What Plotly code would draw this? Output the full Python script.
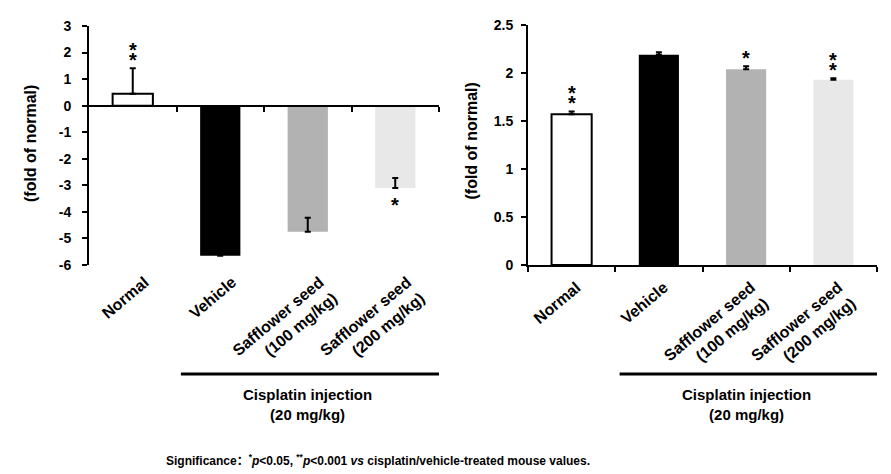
import plotly.graph_objects as go

# ---------------- data ----------------
categories = ["Normal", "Vehicle", "Safflower seed<br>(100 mg/kg)", "Safflower seed<br>(200 mg/kg)"]
bar_colors = ["white", "black", "#b2b2b2", "#e8e8e8"]
bar_outline = [2, 0, 0, 0]

left_values = [0.45, -5.65, -4.75, -3.1]
left_err = [0.96, 0.0, 0.53, 0.38]
left_sig = ["**", "", "", "*"]
left_ticks = [3, 2, 1, 0, -1, -2, -3, -4, -5, -6]

right_values = [1.57, 2.19, 2.04, 1.93]
right_err = [0.03, 0.025, 0.03, 0.015]
right_sig = ["**", "", "*", "**"]
right_ticks = [0, 0.5, 1, 1.5, 2, 2.5]

y_title = "(fold of normal)"
group_title = "Cisplatin injection<br>(20 mg/kg)"
footnote = ("Significance\uff1a<sup>*</sup><i>p</i>&lt;0.05, <sup>**</sup><i>p</i>&lt;0.001 "
            "<i>vs</i> cisplatin/vehicle-treated mouse values.")

# ---------------- layout geometry ----------------
W, H = 891, 474
FONT = "Arial, 'Liberation Sans', 'Noto Sans CJK SC', sans-serif"

def px_x(p):
    return p / W

def px_y(p):
    return 1 - p / H

left_dom_x = [px_x(89), px_x(439)]
left_dom_y = [px_y(265), px_y(26)]
right_dom_x = [px_x(528), px_x(877)]
right_dom_y = [px_y(265), px_y(25)]
left_range = [-6, 3]
right_range = [0, 2.5]

fig = go.Figure()

def add_bars(xref, yref, values, err):
    fig.add_trace(go.Bar(
        x=categories, y=values, xaxis=xref, yaxis=yref,
        marker=dict(color=bar_colors, line=dict(color="black", width=bar_outline)),
        error_y=dict(type="data", symmetric=False, array=err, arrayminus=[0] * len(err),
                     color="black", thickness=2, width=3),
        showlegend=False, hoverinfo="skip",
    ))

add_bars("x", "y", left_values, left_err)
add_bars("x2", "y2", right_values, right_err)

tick_font = dict(family=FONT, size=14, color="black", weight="bold")
xtick_font = dict(family=FONT, size=16, color="black", weight="bold")

yaxis_common = dict(showline=True, linecolor="black", linewidth=2, ticks="outside",
                    ticklen=5, tickwidth=2, tickcolor="black", showgrid=False,
                    tickfont=tick_font)

zero_pos = left_dom_y[0] + (0 - left_range[0]) / (left_range[1] - left_range[0]) * (left_dom_y[1] - left_dom_y[0])

fig.update_layout(
    width=W, height=H,
    margin=dict(l=0, r=0, t=0, b=0, autoexpand=False),
    paper_bgcolor="white", plot_bgcolor="white",
    bargap=0.54,
    xaxis=dict(domain=left_dom_x, anchor="y", type="category", range=[-0.5, 3.5],
               showline=False, ticks="", showgrid=False, zeroline=False, automargin=False,
               tickangle=-40, tickfont=xtick_font, ticklabelshift=12, ticklabelstandoff=4),
    yaxis=dict(domain=left_dom_y, anchor="x", range=left_range, tickvals=left_ticks,
               ticktext=[f"{v:g}" for v in left_ticks], zeroline=False, automargin=False,
               ticklabelstandoff=8, **yaxis_common),
    xaxis3=dict(overlaying="x", anchor="free", position=zero_pos, range=[-0.5, 3.5],
                tickvals=[0.5, 1.5, 2.5, 3.5], ticks="outside", ticklen=5, tickwidth=2,
                tickcolor="black", showticklabels=False, showline=True, linecolor="black",
                linewidth=2, showgrid=False, zeroline=False, automargin=False),
    xaxis2=dict(domain=right_dom_x, anchor="y2", type="category", range=[-0.5, 3.5],
                showline=True, linecolor="black", linewidth=2, ticks="outside",
                tickson="boundaries", ticklen=5, tickwidth=2, tickcolor="black",
                showgrid=False, zeroline=False, automargin=False,
                tickangle=-40, tickfont=xtick_font, ticklabelshift=5, ticklabelstandoff=5),
    yaxis2=dict(domain=right_dom_y, anchor="x2", range=right_range, tickvals=right_ticks,
                ticktext=[f"{v:g}" for v in right_ticks], zeroline=False, automargin=False,
                ticklabelstandoff=5, **yaxis_common),
)

# invisible trace to activate xaxis3
fig.add_trace(go.Scatter(x=[None], y=[None], xaxis="x3", yaxis="y", showlegend=False,
                         hoverinfo="skip"))

# significance stars
def add_stars(xref, yref, values, err, sig):
    for cat, v, e, s in zip(categories, values, err, sig):
        n = len(s)
        for i in range(n):
            if v >= 0:
                base = v + e
                shift = 8 + 10.5 * i
            else:
                base = v
                shift = -17 - 10.5 * i
            fig.add_annotation(x=cat, y=base, xref=xref, yref=yref, text="*",
                               showarrow=False, yanchor="middle", yshift=shift,
                               font=dict(family=FONT, size=20, color="black", weight="bold"))

add_stars("x", "y", left_values, left_err, left_sig)
add_stars("x2", "y2", right_values, right_err, right_sig)

# y titles
for xp, yc in [(30.5, 143.5), (471, 141.5)]:
    fig.add_annotation(x=px_x(xp), y=px_y(yc), xref="paper", yref="paper", text=y_title,
                       textangle=-90, showarrow=False, xanchor="center", yanchor="middle",
                       font=dict(family=FONT, size=16, color="black", weight="bold"))

# group bracket and title
for xr in ["x", "x2"]:
    fig.add_shape(type="line", xref=xr, yref="paper", x0=0.55, x1=3.55,
                  y0=px_y(374), y1=px_y(374), line=dict(color="black", width=3))
    fig.add_annotation(x=2, y=px_y(384), xref=xr, yref="paper", text=group_title,
                       showarrow=False, xanchor="center", yanchor="top",
                       font=dict(family=FONT, size=15, color="black", weight="bold"))

# footnote
fig.add_annotation(x=px_x(378), y=px_y(460), xref="paper", yref="paper", text=footnote,
                   showarrow=False, xanchor="center", yanchor="middle",
                   font=dict(family=FONT, size=12, color="black", weight="bold"))

fig.write_html("out.html", config={"displayModeBar": False},
               post_script="document.body.style.margin='0';document.body.style.overflow='hidden';")
